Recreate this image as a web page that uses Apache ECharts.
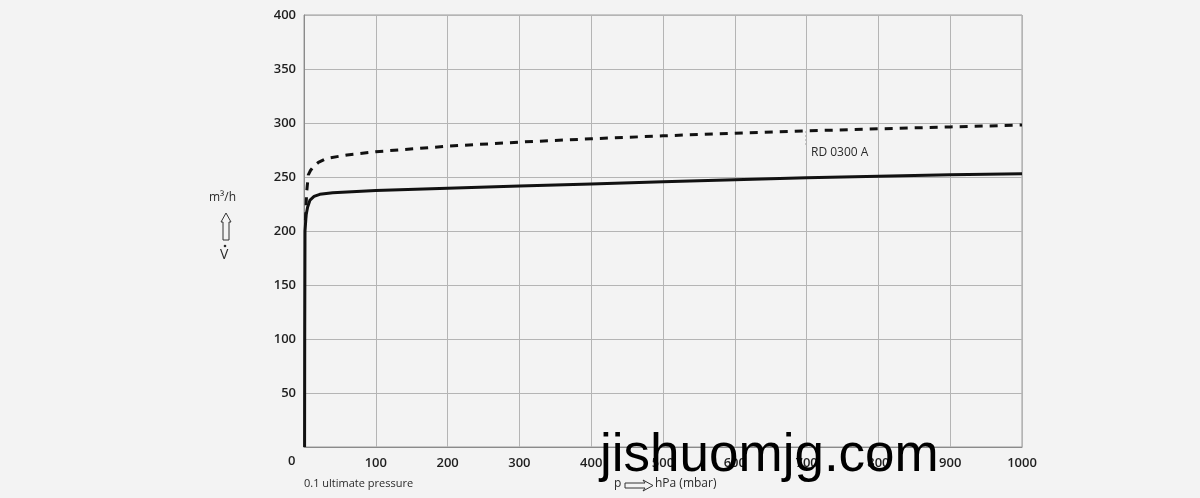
<!DOCTYPE html>
<html>
<head>
<meta charset="utf-8">
<script src="https://cdn.jsdelivr.net/npm/echarts@6/dist/echarts.min.js"></script>
<style>
html,body{margin:0;padding:0;background:#f3f3f3;}
#chart{width:1200px;height:498px;}
</style>
</head>
<body>
<div id="chart"></div>
<script>
// Data
const xTicks = [0, 100, 200, 300, 400, 500, 600, 700, 800, 900, 1000];
const yTicks = [0, 50, 100, 150, 200, 250, 300, 350, 400];
const solidX = [0.8, 1.0, 1.4, 3, 5, 8.4, 14, 22, 40, 60, 100, 200, 300, 400, 500, 600, 700, 800, 900, 1000];
const solidY = [0, 100, 200, 215, 222, 228.7, 232, 234, 235.5, 236.2, 237.5, 239.6, 241.6, 243.6, 245.5, 247.4, 249.2, 250.8, 252.0, 253.0];
const dashX = [2, 3.7, 6, 9, 13, 20, 31.6, 60, 100, 200, 300, 400, 500, 600, 700, 800, 900, 1000];
const dashY = [210, 236, 252, 256, 259.5, 263.5, 267.3, 270.4, 273.4, 278.5, 282.3, 285.4, 288.1, 290.6, 292.7, 294.6, 296.4, 298.1];
const curveLabel = 'RD 0300 A';

const solid = solidX.map((x, i) => [x, solidY[i]]);
const dashed = dashX.map((x, i) => [x, dashY[i]]);

const chart = echarts.init(document.getElementById('chart'), null, {renderer: 'canvas'});
const labelFont = {color: '#1e1e1e', fontSize: 13, fontWeight: 600, fontFamily: '"Open Sans", "Noto Sans", sans-serif'};

chart.setOption({
  backgroundColor: '#f3f3f3',
  animation: false,
  grid: {left: 304, right: 178, top: 15, bottom: 51, show: true, borderColor: '#9a9a9a', borderWidth: 1},
  xAxis: {
    type: 'value', min: xTicks[0], max: xTicks[xTicks.length - 1], interval: 100,
    axisLine: {show: true, lineStyle: {color: '#8a8a8a', width: 1}},
    axisTick: {show: false},
    axisLabel: Object.assign({margin: 10, showMinLabel: false, formatter: v => String(v)}, labelFont),
    splitLine: {show: true, lineStyle: {color: '#b4b4b4', width: 1}}
  },
  yAxis: {
    type: 'value', min: yTicks[0], max: yTicks[yTicks.length - 1], interval: 50,
    axisLine: {show: true, lineStyle: {color: '#8a8a8a', width: 1}},
    axisTick: {show: false},
    axisLabel: Object.assign({margin: 8, showMinLabel: false, formatter: v => String(v)}, labelFont),
    splitLine: {show: true, lineStyle: {color: '#b4b4b4', width: 1}}
  },
  series: [
    {
      type: 'line', data: solid, showSymbol: false, symbol: 'none', smooth: false,
      lineStyle: {color: '#111', width: 3}, z: 3
    },
    {
      type: 'line', data: dashed, showSymbol: false, symbol: 'none', smooth: false,
      lineStyle: {color: '#111', width: 3, type: [8, 7]}, z: 3
    }
  ],
  graphic: [
    {type: 'text', left: 288, top: 455, style: {text: '0', fill: '#1e1e1e', font: '600 13px "Open Sans", sans-serif'}},
    {type: 'text', left: 304, top: 478, style: {text: '0.1 ultimate pressure', fill: '#2a2a2a', font: '11px "Open Sans", sans-serif'}},
    {type: 'text', left: 614, top: 478, style: {text: 'p', fill: '#2a2a2a', font: '12px "Open Sans", sans-serif'}},
    {type: 'polygon', shape: {points: [[625, 483], [645, 483], [643, 480], [653, 485.5], [643, 491], [645, 488], [625, 488]]}, style: {fill: 'none', stroke: '#333', lineWidth: 1}},
    {type: 'text', left: 655, top: 478, style: {text: 'hPa (mbar)', fill: '#2a2a2a', font: '12px "Open Sans", sans-serif'}},
    {type: 'text', left: 209, top: 192, style: {text: 'm³/h', fill: '#2a2a2a', font: '12px "Open Sans", sans-serif'}},
    {type: 'polygon', shape: {points: [[226, 213], [231, 222], [229, 222], [229, 240], [223, 240], [223, 222], [221, 222]]}, style: {fill: 'none', stroke: '#333', lineWidth: 1}},
    {type: 'text', left: 220, top: 248, style: {text: 'V', fill: '#2a2a2a', font: '14px "Open Sans", sans-serif'}},
    {type: 'circle', shape: {cx: 225, cy: 246, r: 1.3}, style: {fill: '#2a2a2a'}},
    {type: 'line', shape: {x1: 806, y1: 131, x2: 806, y2: 146}, style: {stroke: '#999', lineWidth: 1, lineDash: [2, 2]}},
    {type: 'text', left: 811, top: 147, style: {text: curveLabel, fill: '#2a2a2a', font: '12px "Open Sans", sans-serif'}},
    {type: 'text', left: 600, top: 430, z: 100, style: {text: 'jishuomjg.com', fill: '#000', font: '53px "Liberation Sans", Arial, sans-serif'}}
  ]
});
</script>
</body>
</html>
